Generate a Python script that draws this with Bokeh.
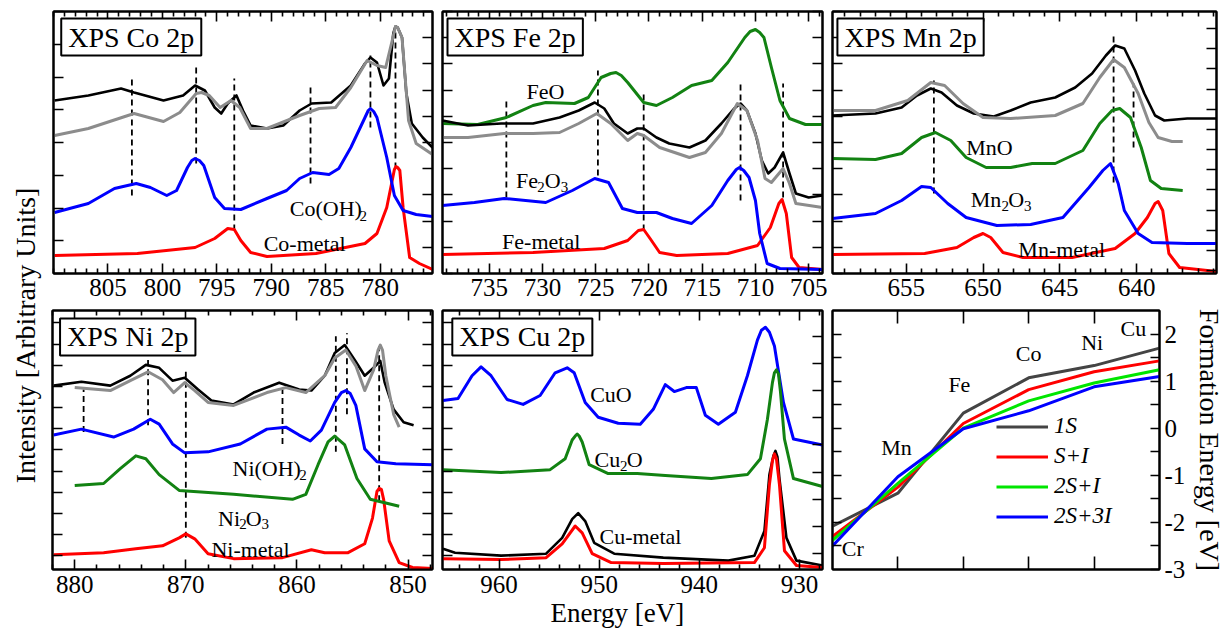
from bokeh.plotting import figure
from bokeh.models import Range1d, FixedTicker, LinearAxis, Label, CustomLabelingPolicy
from bokeh.layouts import row, column
from bokeh.embed import file_html
from bokeh.resources import INLINE
from bokeh.core.properties import value

FONT = "Liberation Serif"

# ---------------- data (energies in eV, intensities in arbitrary units) ----------------
co_E_exp = [809.9, 806.8, 803.8, 802.6, 799.9, 798.1, 797.0, 796.1, 795.2, 794.6, 794.0, 793.2, 792.6, 791.9, 790.4, 788.9, 787.4, 786.3, 784.5, 782.7, 781.4, 780.9, 780.3, 779.7, 779.2, 778.8, 778.6, 778.4, 778.0, 777.6, 777.1, 776.1, 775.2]
co_I_exp = [173, 178, 185, 181, 173, 178, 188, 183, 166, 160, 170, 178, 163, 148, 145, 148, 163, 170, 171, 188, 210, 216, 211, 188, 195, 240, 247, 246, 236, 180, 150, 136, 126]
co_E_fit = [809.9, 806.8, 802.6, 799.9, 798.4, 796.9, 796.4, 795.7, 794.7, 793.7, 792.9, 791.9, 790.4, 787.4, 785.6, 784.1, 782.7, 781.2, 780.3, 779.5, 778.9, 778.6, 778.4, 778.0, 777.4, 776.7, 775.2]
co_I_fit = [138, 145, 160, 152, 161, 180, 181, 178, 166, 173, 166, 145, 145, 158, 165, 166, 186, 213, 208, 206, 233, 247, 246, 236, 153, 130, 119]
co_E_oh = [809.9, 806.8, 804.4, 802.4, 801.1, 799.6, 798.7, 797.7, 797.3, 797.0, 796.6, 796.2, 795.2, 794.3, 792.8, 790.4, 788.6, 787.4, 786.2, 784.7, 783.8, 782.7, 781.4, 781.1, 780.9, 780.6, 780.3, 779.4, 778.7, 777.9, 776.7, 775.2]
co_I_oh = [61, 70, 85, 90, 86, 78, 83, 106, 113, 115, 113, 108, 76, 65, 64, 75, 83, 95, 101, 99, 105, 126, 156, 163, 165, 162, 156, 116, 78, 63, 59, 57]
co_E_met = [809.9, 802.3, 797.0, 795.2, 794.0, 793.4, 792.8, 791.9, 790.4, 785.9, 781.4, 780.3, 779.4, 778.9, 778.7, 778.55, 778.4, 778.2, 777.9, 777.3, 776.4, 775.2]
co_I_met = [18, 20, 26, 35, 45, 44, 33, 21, 17, 20, 30, 40, 66, 93, 104, 107, 106, 103, 66, 16, 10, 4]
co_dash_E = [802.8, 796.9, 793.4, 786.4, 780.9, 778.6]
co_dash_top = [195, 208, 195, 188, 218, 245]
co_dash_bot = [78, 110, 43, 90, 146, 105]

fe_E_exp = [739.4, 737.0, 733.9, 730.9, 728.4, 726.6, 725.1, 724.2, 723.3, 722.0, 721.1, 720.5, 719.3, 718.1, 716.2, 714.7, 713.2, 712.0, 711.4, 710.8, 710.0, 709.4, 708.8, 708.2, 707.4, 706.8, 706.2, 705.0, 703.7]
fe_I_exp = [153, 148, 150, 150, 156, 163, 171, 165, 150, 140, 145, 145, 136, 130, 126, 133, 150, 165, 170, 163, 140, 113, 100, 106, 121, 100, 80, 76, 78]
fe_E_fit = [739.4, 737.0, 733.6, 730.9, 728.4, 726.6, 724.9, 723.6, 722.0, 721.1, 720.5, 719.0, 716.2, 714.7, 713.2, 711.7, 710.8, 709.8, 709.1, 708.5, 707.4, 706.8, 706.2, 703.7]
fe_I_fit = [136, 136, 140, 140, 141, 150, 160, 150, 133, 140, 138, 126, 116, 121, 140, 170, 163, 133, 95, 91, 105, 90, 70, 66]
fe_E_feo = [739.4, 736.1, 733.4, 730.9, 729.7, 727.0, 725.7, 724.5, 723.6, 723.1, 722.6, 722.0, 720.5, 719.3, 717.8, 716.0, 714.1, 712.6, 711.0, 710.5, 710.0, 709.6, 709.2, 708.5, 707.7, 706.8, 705.3, 703.7]
fe_I_feo = [150, 149, 156, 168, 171, 170, 176, 196, 200, 201, 198, 191, 171, 168, 176, 188, 193, 211, 236, 242, 244, 241, 236, 206, 173, 155, 149, 149]
fe_E_ox = [739.4, 736.4, 733.6, 729.7, 727.2, 725.1, 723.8, 722.5, 721.1, 719.3, 717.8, 716.0, 714.1, 712.6, 711.8, 711.5, 711.1, 710.6, 710.0, 709.6, 708.9, 707.7, 703.7]
fe_I_ox = [68, 71, 75, 71, 83, 95, 91, 65, 61, 61, 55, 50, 68, 93, 104, 106, 103, 96, 73, 40, 10, 5, 4]
fe_E_met = [739.4, 730.9, 724.2, 722.0, 721.0, 720.5, 719.9, 719.0, 717.4, 712.6, 709.8, 708.6, 707.8, 707.5, 707.1, 706.6, 705.9, 703.7]
fe_I_met = [19, 21, 25, 33, 43, 44, 35, 21, 18, 20, 28, 46, 70, 74, 60, 16, 6, 4]
fe_dash_E = [733.4, 724.8, 720.5, 711.4, 707.4]
fe_dash_top = [173, 203, 181, 190, 190]
fe_dash_bot = [76, 98, 43, 73, 76]

mn_E_exp = [659.8, 657.0, 655.3, 654.3, 653.4, 652.7, 651.7, 650.6, 649.3, 648.2, 646.9, 645.3, 644.0, 642.9, 642.0, 641.4, 640.8, 640.1, 639.5, 638.8, 638.2, 636.7, 634.8]
mn_I_exp = [158, 160, 166, 178, 185, 181, 168, 160, 157, 163, 171, 176, 186, 200, 218, 228, 225, 203, 180, 158, 153, 155, 155]
mn_E_fit = [659.8, 657.0, 654.9, 653.4, 652.5, 651.3, 650.0, 648.2, 645.3, 643.5, 642.4, 641.5, 640.8, 639.9, 639.2, 638.6, 637.7, 637.0]
mn_I_fit = [163, 163, 173, 191, 188, 170, 156, 155, 158, 170, 196, 214, 206, 180, 151, 136, 132, 132]
mn_E_mno = [659.8, 657.0, 655.3, 654.0, 653.1, 652.1, 651.1, 649.8, 648.2, 646.8, 645.3, 643.5, 642.4, 641.6, 641.1, 640.4, 639.7, 639.1, 638.4, 637.0]
mn_I_mno = [115, 114, 120, 136, 141, 133, 116, 106, 106, 110, 110, 123, 150, 163, 165, 156, 126, 93, 85, 83]
mn_E_ox = [659.8, 657.0, 655.3, 654.0, 653.4, 652.3, 651.1, 649.1, 646.9, 644.8, 643.1, 642.2, 641.7, 641.2, 640.8, 639.9, 639.0, 636.7, 634.8]
mn_I_ox = [55, 60, 73, 87, 86, 70, 56, 48, 49, 56, 86, 103, 110, 90, 63, 40, 31, 30, 30]
mn_E_met = [659.8, 653.8, 651.7, 650.6, 650.0, 649.5, 648.7, 647.4, 644.2, 641.4, 640.1, 639.3, 638.8, 638.6, 638.3, 637.9, 637.2, 634.8]
mn_I_met = [19, 20, 26, 36, 40, 36, 21, 16, 16, 25, 40, 56, 70, 72, 63, 20, 6, 2]
mn_dash_E = [653.2, 641.5, 640.2]
mn_dash_top = [193, 238, 190]
mn_dash_bot = [80, 91, 126]

ni_E_exp = [881.9, 879.4, 876.8, 875.0, 873.6, 872.4, 871.2, 870.1, 868.9, 867.7, 865.7, 863.9, 861.6, 859.8, 858.7, 857.5, 856.6, 855.7, 854.8, 853.9, 853.1, 852.5, 852.1, 851.3, 850.4, 849.5]
ni_I_exp = [186, 190, 186, 196, 207, 204, 191, 194, 182, 171, 167, 179, 189, 182, 181, 196, 219, 227, 212, 196, 204, 211, 189, 162, 149, 146]
ni_E_fit = [880.0, 876.8, 875.0, 873.4, 872.1, 871.1, 870.1, 869.2, 868.0, 865.7, 862.7, 861.0, 859.2, 857.5, 856.6, 855.6, 854.7, 853.9, 853.1, 852.7, 852.5, 852.3, 852.0, 851.3, 850.8]
ni_I_fit = [184, 181, 191, 200, 192, 179, 189, 181, 169, 166, 179, 184, 179, 196, 214, 222, 206, 181, 202, 222, 227, 222, 196, 157, 144]
ni_E_oh = [881.9, 879.4, 876.5, 874.7, 873.2, 872.4, 871.2, 870.1, 868.0, 865.1, 862.7, 861.0, 859.8, 858.8, 857.8, 856.6, 856.0, 855.6, 855.2, 854.7, 853.9, 852.8, 851.1, 847.8]
ni_I_oh = [136, 142, 134, 142, 152, 147, 127, 118, 119, 127, 142, 144, 136, 130, 141, 169, 179, 181, 178, 166, 122, 109, 107, 106]
ni_E_ox = [880.0, 877.4, 875.9, 874.5, 873.6, 872.4, 870.6, 865.7, 860.4, 859.2, 858.1, 857.2, 856.6, 855.7, 854.6, 853.4, 850.8]
ni_I_ox = [85, 87, 102, 115, 112, 96, 80, 76, 71, 76, 106, 129, 135, 126, 92, 71, 64]
ni_E_met = [881.9, 877.4, 874.5, 872.1, 870.6, 870.0, 869.2, 868.0, 865.7, 861.3, 858.7, 857.5, 855.4, 853.9, 853.2, 852.8, 852.6, 852.4, 852.2, 851.7, 850.8, 849.6, 847.8]
ni_I_met = [15, 17, 21, 24, 32, 36, 31, 16, 11, 12, 20, 17, 17, 26, 52, 79, 82, 81, 71, 29, 7, 2, 1]
ni_dash_E = [879.2, 873.4, 870.0, 861.3, 856.5, 855.5, 852.6]
ni_dash_top = [182, 212, 204, 182, 236, 239, 226]
ni_dash_bot = [139, 146, 32, 127, 119, 157, 69]

cu_E_cuo = [965.6, 964.1, 962.7, 961.8, 960.8, 959.2, 957.6, 955.9, 954.4, 953.2, 952.5, 951.4, 950.1, 948.1, 945.9, 944.6, 943.4, 942.5, 941.3, 940.3, 939.4, 938.1, 936.4, 935.2, 934.2, 933.8, 933.4, 933.0, 932.5, 931.6, 930.6, 927.7]
cu_I_cuo = [171, 173, 196, 205, 196, 172, 167, 176, 199, 204, 199, 169, 154, 148, 147, 162, 187, 180, 184, 184, 156, 147, 159, 196, 232, 242, 245, 240, 226, 169, 132, 126]
cu_E_cu2o = [965.6, 959.8, 954.9, 953.4, 952.7, 952.4, 952.2, 952.0, 951.7, 951.0, 949.1, 946.2, 943.4, 938.8, 935.2, 933.9, 933.2, 932.7, 932.5, 932.3, 932.1, 931.9, 931.5, 930.6, 927.7]
cu_I_cu2o = [101, 98, 101, 112, 131, 135, 137, 135, 129, 106, 97, 97, 95, 92, 96, 112, 152, 189, 199, 202, 198, 180, 132, 92, 84]
cu_E_exp = [965.6, 964.4, 959.8, 955.3, 953.7, 952.7, 952.1, 951.4, 950.5, 948.5, 943.6, 937.1, 934.5, 933.5, 933.0, 932.6, 932.4, 932.2, 932.0, 931.3, 930.3, 927.7]
cu_I_exp = [21, 17, 14, 16, 32, 51, 57, 49, 27, 16, 12, 9, 14, 39, 96, 115, 120, 114, 92, 32, 9, 4]
cu_E_met = [965.6, 959.8, 955.3, 953.7, 952.4, 951.7, 950.7, 948.8, 943.6, 934.5, 933.5, 933.0, 932.7, 932.5, 932.3, 932.0, 931.5, 930.3, 927.7]
cu_I_met = [11, 10, 12, 26, 44, 37, 16, 7, 6, 7, 22, 86, 110, 117, 112, 86, 19, 4, 2]

elements = ["Cr", "Mn", "Fe", "Co", "Ni", "Cu"]
elem_pos = [0, 1, 2, 3, 4, 5]
fe_1S = [-2.08, -1.38, 0.32, 1.07, 1.33, 1.70]
fe_SI = [-2.30, -1.25, 0.10, 0.82, 1.20, 1.43]
fe_2SI = [-2.38, -1.17, 0.00, 0.58, 0.96, 1.24]
fe_2S3I = [-2.50, -1.03, -0.01, 0.37, 0.88, 1.10]
elem_lbl_x = [0.31, 0.98, 1.94, 3.0, 3.97, 4.6]
elem_lbl_y = [-2.56, -0.40, 0.92, 1.58, 1.81, 2.12]

# text labels: (x, baseline y, text)
co_lbl = ([788.3, 790.7], [65, 30], ["Co(OH)", "Co-metal"])
co_sub = ([781.9], [58], ["2"])
fe_lbl = ([731.5, 732.5, 729.8, 733.8], [182, 93, 93, 32], ["FeO", "Fe", "O", "Fe-metal"])
fe_sub = ([730.5, 728.3], [87, 87], ["2", "3"])
mn_lbl = ([651.1, 650.8, 648.36, 647.7], [126, 74, 74, 24], ["MnO", "Mn", "O", "Mn-metal"])
mn_sub = ([648.8, 647.33], [68, 68], ["2", "3"])
ni_lbl = ([865.8, 867.1, 864.6, 867.7], [102, 52, 52, 20], ["Ni(OH)", "Ni", "O", "Ni-metal"])
ni_sub = ([859.8, 865.2, 863.2], [96, 46, 46], ["2", "2", "3"])
cu_lbl = ([950.9, 950.46, 947.24, 949.97], [177, 111, 111, 33], ["CuO", "Cu", "O", "Cu-metal"])
cu_sub = ([947.93], [105], ["2"])

BLACK, GRAY, BLUE, RED, GREEN = "#000000", "#8c8c8c", "#0000ff", "#ff0000", "#128212"

NO_LABELS = "for (const i of indices) indices.unset(i); return indices"


def style_axis(ax, show, tick_in=10, minor_in=5, size="25px", standoff=4):
    ax.axis_line_color = "black"
    ax.axis_line_width = 2
    ax.major_tick_in = tick_in
    ax.major_tick_out = 0
    ax.minor_tick_in = minor_in
    ax.minor_tick_out = 0
    ax.major_tick_line_width = 1.6
    ax.minor_tick_line_width = 1.6
    ax.major_tick_line_color = "black"
    ax.minor_tick_line_color = "black"
    ax.major_label_text_font = FONT
    ax.major_label_text_color = "black"
    if show:
        ax.major_label_text_font_size = size
        ax.major_label_standoff = standoff
    else:
        ax.major_label_text_font_size = "1px"
        ax.major_label_standoff = 0
        ax.major_label_policy = CustomLabelingPolicy(code=NO_LABELS)


def xps_panel(xr, width, height, mb, xmaj, xmin, yl, yr, standoff=4):
    p = figure(width=width, height=height, x_range=Range1d(*xr), y_range=Range1d(0, 262),
               toolbar_location=None, output_backend="svg", y_axis_location=None,
               min_border_left=0, min_border_right=mb[1], min_border_top=mb[0], min_border_bottom=mb[2])
    p.grid.visible = False
    p.outline_line_color = "black"
    p.outline_line_width = 2
    p.background_fill_color = "white"
    p.xaxis[0].ticker = FixedTicker(ticks=xmaj, minor_ticks=xmin)
    style_axis(p.xaxis[0], True, standoff=standoff)
    top = LinearAxis(ticker=FixedTicker(ticks=xmaj, minor_ticks=xmin))
    style_axis(top, False)
    p.add_layout(top, "above")
    la = LinearAxis(ticker=FixedTicker(ticks=yl, minor_ticks=[]))
    style_axis(la, False, tick_in=10)
    p.add_layout(la, "left")
    ra = LinearAxis(ticker=FixedTicker(ticks=yr, minor_ticks=[]))
    style_axis(ra, False, tick_in=10)
    p.add_layout(ra, "right")
    return p


def dashes(p, xs, top, bot):
    p.segment(x0=xs, y0=bot, x1=xs, y1=top, line_color="black", line_width=1.8, line_dash="6 4")


def curve(p, x, y, color, w=3.0):
    p.line(x, y, line_color=color, line_width=w, line_join="round")


def labels(p, lbl, sub):
    p.text(x=lbl[0], y=lbl[1], text=lbl[2], text_font=value(FONT), text_font_size="22px",
           text_align="left", text_baseline="alphabetic", text_color="black")
    p.text(x=sub[0], y=sub[1], text=sub[2], text_font=value(FONT), text_font_size="15px",
           text_align="left", text_baseline="alphabetic", text_color="black")


def box(p, x, y, txt):
    p.add_layout(Label(x=x, y=y, text=txt, text_font=FONT, text_font_size="28px",
                       text_align="left", text_baseline="top", text_color="black",
                       border_line_color="black", border_line_width=2,
                       background_fill_color="white",
                       padding=dict(left=7, right=7, top=3, bottom=3)))


def minor_list(lo, hi, step, majors):
    out = []
    v = lo
    while v <= hi + 1e-9:
        if all(abs(v - m) > 1e-6 for m in majors):
            out.append(round(v, 3))
        v += step
    return out


def spaced(n, offset=0.0):
    res = []
    k = 0
    while True:
        v = offset + 262.0 / n * k
        if v > 262:
            break
        res.append(v)
        k += 1
    return res


TOP_H = 306
BOT_H = 329
TOP_MB = (11, 0, 33)
BOT_MB = (1, 0, 66)

# ---- Co ----
co_maj = [780, 785, 790, 795, 800, 805]
co = xps_panel((810, 775.2), 390, TOP_H, TOP_MB, co_maj, minor_list(776, 810, 1, co_maj),
               spaced(8), spaced(10), standoff=5)
dashes(co, co_dash_E, co_dash_top, co_dash_bot)
curve(co, co_E_met, co_I_met, RED)
curve(co, co_E_oh, co_I_oh, BLUE)
curve(co, co_E_exp, co_I_exp, BLACK, 2.6)
curve(co, co_E_fit, co_I_fit, GRAY)
labels(co, co_lbl, co_sub)
box(co, 809.29, 255, "XPS Co 2p")

# ---- Fe ----
fe_maj = [705, 710, 715, 720, 725, 730, 735]
fe = xps_panel((739.4, 703.7), 390, TOP_H, TOP_MB, fe_maj, minor_list(704, 739, 1, fe_maj),
               spaced(10), spaced(10), standoff=5)
dashes(fe, fe_dash_E, fe_dash_top, fe_dash_bot)
curve(fe, fe_E_met, fe_I_met, RED)
curve(fe, fe_E_ox, fe_I_ox, BLUE)
curve(fe, fe_E_feo, fe_I_feo, GREEN)
curve(fe, fe_E_exp, fe_I_exp, BLACK, 2.6)
curve(fe, fe_E_fit, fe_I_fit, GRAY)
labels(fe, fe_lbl, fe_sub)
box(fe, 738.93, 255, "XPS Fe 2p")

# ---- Mn ----
mn_maj = [640, 645, 650, 655]
mn = xps_panel((659.8, 634.8), 399, TOP_H, (11, 10, 33), mn_maj, minor_list(635, 659, 1, mn_maj),
               spaced(10), spaced(13, offset=3), standoff=5)
dashes(mn, mn_dash_E, mn_dash_top, mn_dash_bot)
curve(mn, mn_E_met, mn_I_met, RED)
curve(mn, mn_E_ox, mn_I_ox, BLUE)
curve(mn, mn_E_mno, mn_I_mno, GREEN)
curve(mn, mn_E_exp, mn_I_exp, BLACK, 2.6)
curve(mn, mn_E_fit, mn_I_fit, GRAY)
labels(mn, mn_lbl, mn_sub)
box(mn, 659.48, 255, "XPS Mn 2p")

# ---- Ni ----
ni_maj = [850, 860, 870, 880]
ni_yl = [14 + 21.4 * k for k in range(12)]
ni = xps_panel((882, 847.8), 390, BOT_H, BOT_MB, ni_maj, minor_list(848, 882, 2, ni_maj),
               ni_yl, ni_yl, standoff=6)
dashes(ni, ni_dash_E, ni_dash_top, ni_dash_bot)
curve(ni, ni_E_met, ni_I_met, RED)
curve(ni, ni_E_ox, ni_I_ox, GREEN)
curve(ni, ni_E_oh, ni_I_oh, BLUE)
curve(ni, ni_E_exp, ni_I_exp, BLACK, 2.6)
curve(ni, ni_E_fit, ni_I_fit, GRAY)
labels(ni, ni_lbl, ni_sub)
box(ni, 881.32, 254, "XPS Ni 2p")

# ---- Cu ----
cu_maj = [930, 940, 950, 960]
cu_yr = [16 + 27.5 * k for k in range(9)]
cu = xps_panel((965.65, 927.7), 390, BOT_H, BOT_MB, cu_maj, minor_list(928, 964, 2, cu_maj),
               ni_yl, cu_yr, standoff=6)
curve(cu, cu_E_cuo, cu_I_cuo, BLUE)
curve(cu, cu_E_cu2o, cu_I_cu2o, GREEN)
curve(cu, cu_E_exp, cu_I_exp, BLACK, 2.6)
curve(cu, cu_E_met, cu_I_met, RED)
labels(cu, cu_lbl, cu_sub)
box(cu, 964.67, 254, "XPS Cu 2p")
cu.title_location = "below"
cu.title.text = "Energy [eV]"
cu.title.align = "left"
cu.title.offset = 108
cu.title.standoff = 0
cu.title.text_font = FONT
cu.title.text_font_size = "27px"
cu.title.text_font_style = "normal"
cu.title.text_color = "black"

# ---- formation energy ----
fm = figure(width=401, height=BOT_H, x_range=Range1d(0, 5), y_range=Range1d(-3, 2.5),
            toolbar_location=None, output_backend="svg", y_axis_location="right",
            min_border_left=0, min_border_right=66, min_border_top=1, min_border_bottom=66)
fm.grid.visible = False
fm.outline_line_color = "black"
fm.outline_line_width = 2
fm.xaxis[0].ticker = FixedTicker(ticks=[1, 2, 3, 4], minor_ticks=[])
style_axis(fm.xaxis[0], False, tick_in=13)
fm_top = LinearAxis(ticker=FixedTicker(ticks=[1, 2, 3, 4], minor_ticks=[]))
style_axis(fm_top, False, tick_in=13)
fm.add_layout(fm_top, "above")
ry = fm.yaxis[0]
ry.ticker = FixedTicker(ticks=[-3, -2, -1, 0, 1, 2], minor_ticks=[-2.5, -1.5, -0.5, 0.5, 1.5])
style_axis(ry, True, tick_in=9, minor_in=9, standoff=5)
ry.major_label_overrides = {-3: "-3", -2: "-2", -1: "-1", 0: "0", 1: "1", 2: "2"}
ry.axis_label = "Formation Energy [eV]"
ry.axis_label_text_font = FONT
ry.axis_label_text_font_size = "28px"
ry.axis_label_text_font_style = "normal"
ry.axis_label_text_color = "black"
ry.axis_label_standoff = 6
ly = LinearAxis(ticker=FixedTicker(ticks=[-2.5, -2, -1.5, -1, -0.5, 0, 0.5, 1, 1.5, 2], minor_ticks=[]))
style_axis(ly, False, tick_in=9)
fm.add_layout(ly, "left")
for ys, col, name in [(fe_1S, "#444444", "1S"), (fe_SI, "#ff0000", "S+I"),
                      (fe_2SI, "#00e600", "2S+I"), (fe_2S3I, "#0000ff", "2S+3I")]:
    fm.line(elem_pos, ys, line_color=col, line_width=3, legend_label=name)
fm.text(x=elem_lbl_x, y=elem_lbl_y, text=elements, text_font=value(FONT), text_font_size="22px",
        text_align="center", text_baseline="middle", text_color="black")
lg = fm.legend[0]
lg.location = (164, 40)
lg.background_fill_alpha = 0
lg.border_line_color = None
lg.padding = 0
lg.margin = 0
lg.spacing = 4
lg.glyph_width = 52
lg.glyph_height = 25
lg.label_height = 25
lg.label_standoff = 6
lg.label_text_font = FONT
lg.label_text_font_size = "23px"
lg.label_text_font_style = "italic"
lg.label_text_color = "black"

# ---- y label strip ----
yl = figure(width=47, height=635, toolbar_location=None, output_backend="svg",
            x_axis_type=None, y_axis_type=None, title_location="left",
            min_border_left=40, min_border_right=0, min_border_top=45, min_border_bottom=10)
yl.outline_line_color = None
yl.grid.visible = False
yl.title.text = "Intensity [Arbitrary Units]"
yl.title.align = "center"
yl.title.standoff = 0
yl.title.text_font = FONT
yl.title.text_font_size = "28px"
yl.title.text_font_style = "normal"
yl.title.text_color = "black"

layout = row(yl, column(row(co, fe, mn), row(ni, cu, fm)))
open("out.html", "w").write(file_html(layout, INLINE))
